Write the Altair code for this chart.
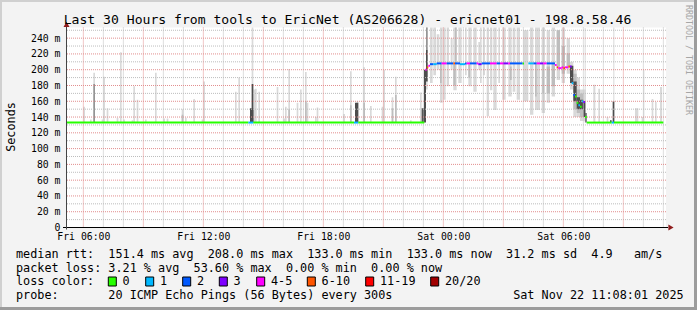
import altair as alt
import pandas as pd

MONO = "DejaVu Sans Mono"

# ---------------- data (time = minutes since Fri 00:00, values = ms) ----------------
time_domain = [308, 2108]          # Fri 05:08 .. Sat 11:08
rtt_domain = [0, 253.5]
x_ticks = [360, 720, 1080, 1440, 1800]
y_ticks = list(range(0, 241, 20))

loss_labels = ["0", "1", "2", "3", "4-5", "6-10", "11-19", "20/20"]
loss_colors = ["#26ff00", "#00b8ff", "#0059ff", "#7e00ff", "#ff00ff", "#ff5500", "#ff0000", "#a10000"]

# smoke bars: (start, end, low, high)
light_bars = [
    (360, 365, 133, 153), (380, 385, 133, 137), (390, 395, 133, 196), (415, 420, 133, 137),
    (420, 425, 133, 191), (430, 435, 133, 151), (460, 465, 133, 139), (470, 475, 133, 222),
    (480, 485, 133, 137), (505, 510, 133, 136), (510, 515, 133, 179), (520, 525, 133, 162),
    (545, 550, 133, 137), (575, 580, 133, 196), (600, 605, 133, 138), (610, 615, 133, 138),
    (655, 660, 133, 150), (665, 670, 133, 139), (690, 695, 133, 163), (715, 720, 133, 137),
    (720, 725, 133, 185), (815, 820, 133, 172), (825, 830, 133, 190), (865, 870, 133, 254),
    (870, 875, 133, 175), (875, 880, 133, 176), (885, 890, 133, 172), (940, 945, 133, 178),
    (960, 965, 133, 138), (965, 970, 133, 153), (975, 980, 133, 201), (1000, 1005, 133, 158),
    (1010, 1015, 133, 175), (1025, 1030, 133, 197), (1030, 1035, 133, 158), (1055, 1060, 133, 140),
    (1060, 1065, 133, 152), (1140, 1145, 133, 144), (1160, 1165, 133, 198), (1180, 1185, 133, 160),
    (1200, 1205, 133, 203), (1220, 1225, 133, 154), (1255, 1260, 133, 153), (1260, 1265, 133, 200),
    (1285, 1290, 133, 165), (1295, 1300, 133, 191), (1340, 1345, 133, 136), (1370, 1375, 133, 171),
    (1388, 1393, 175, 254), (1400, 1408, 183, 254), (1410, 1418, 193, 254), (1420, 1428, 200, 245),
    (1430, 1438, 158, 254), (1440, 1447, 162, 254), (1450, 1457, 179, 254), (1462, 1468, 200, 240),
    (1470, 1480, 174, 254), (1485, 1495, 183, 254), (1505, 1510, 193, 254), (1515, 1525, 179, 254),
    (1530, 1540, 172, 254), (1545, 1550, 200, 235), (1550, 1555, 183, 254), (1560, 1565, 193, 254),
    (1570, 1577, 141, 254), (1580, 1587, 174, 254), (1590, 1600, 149, 254), (1605, 1610, 183, 254),
    (1617, 1627, 162, 254), (1635, 1645, 166, 254), (1648, 1656, 172, 254), (1660, 1670, 162, 254),
    (1680, 1695, 160, 250), (1700, 1710, 143, 254), (1715, 1730, 149, 254), (1735, 1745, 145, 254),
    (1750, 1760, 158, 250), (1765, 1775, 166, 254), (1780, 1790, 187, 250), (1795, 1805, 183, 254),
    (1810, 1820, 195, 240), (1820, 1830, 175, 210), (1830, 1840, 140, 200), (1840, 1850, 140, 190),
    (1850, 1860, 135, 175), (1860, 1868, 135, 175), (1864, 1867, 133, 253),
    (1890, 1896, 133, 181), (1905, 1910, 133, 176), (1930, 1935, 133, 140), (1950, 1953, 133, 254),
    (2015, 2025, 133, 151), (2035, 2040, 133, 140), (2040, 2043, 133, 200), (2065, 2070, 133, 163),
    (2075, 2080, 133, 159), (2090, 2096, 133, 178),
]
mid_bars = [
    (655, 660, 133, 143), (975, 980, 133, 150), (1025, 1030, 133, 160), (1160, 1165, 133, 155),
    (1200, 1205, 133, 158), (1285, 1290, 133, 151), (1295, 1300, 133, 168),
    (1430, 1435, 183, 207), (1470, 1477, 180, 207), (1475, 1480, 208, 254), (1515, 1520, 190, 207),
    (1640, 1645, 187, 204), (1715, 1720, 166, 207), (1737, 1742, 170, 207), (1750, 1760, 170, 204),
    (1765, 1775, 179, 208), (1780, 1790, 204, 250), (1795, 1805, 195, 230), (1810, 1820, 204, 221),
    (1830, 1840, 150, 195), (1840, 1850, 145, 175), (1850, 1860, 140, 170),
]
grey_bars = [
    (390, 395, 133, 182), (1388, 1393, 225, 254),
]
dark_bars = [
    (860, 870, 133, 151), (865, 870, 133, 182), (1175, 1185, 133, 158), (1375, 1382, 133, 151),
    (1382, 1388, 133, 200), (1388, 1393, 185, 225), (1820, 1830, 183, 205), (1830, 1840, 160, 185),
    (1840, 1850, 150, 165), (1850, 1860, 150, 162), (1860, 1866, 140, 160), (1866, 1870, 133, 145),
    (1940, 1945, 133, 136), (1948, 1953, 133, 160),
]

# median rtt steps: (start, end, value, loss bucket index)
median_steps = [
    (308, 855, 133, 0), (855, 870, 133, 1), (870, 1172, 133, 0), (1172, 1185, 133, 1),
    (1185, 1383, 133, 0), (1386, 1390, 200, 4), (1390, 1395, 203, 5), (1395, 1400, 205, 4),
    (1400, 1410, 207, 2), (1410, 1420, 207, 1), (1420, 1435, 208, 2), (1435, 1450, 208, 4),
    (1450, 1470, 208, 2), (1470, 1475, 208, 5), (1475, 1490, 208, 2), (1490, 1505, 207, 1),
    (1505, 1510, 208, 2), (1510, 1520, 208, 4), (1520, 1540, 208, 2), (1540, 1545, 208, 4),
    (1545, 1555, 207, 3), (1555, 1580, 208, 2), (1580, 1600, 208, 4), (1600, 1610, 208, 2),
    (1610, 1620, 208, 4), (1620, 1635, 208, 3), (1635, 1640, 208, 4), (1640, 1678, 208, 2),
    (1678, 1682, 208, 0), (1695, 1710, 208, 1), (1710, 1720, 208, 2), (1720, 1730, 208, 4),
    (1730, 1740, 208, 3), (1740, 1750, 208, 4), (1750, 1775, 208, 2), (1775, 1780, 206, 4),
    (1780, 1785, 203, 5), (1785, 1795, 202, 4), (1795, 1800, 203, 4), (1800, 1805, 202, 5),
    (1805, 1815, 203, 4), (1815, 1820, 204, 5), (1820, 1825, 204, 3), (1825, 1830, 183, 1),
    (1830, 1835, 168, 2), (1835, 1840, 166, 0), (1840, 1845, 158, 0), (1845, 1850, 155, 1),
    (1850, 1855, 153, 0), (1855, 1860, 160, 1), (1860, 1865, 159, 3), (1865, 1870, 140, 0),
    (1870, 1945, 133, 0), (1945, 1952, 133, 1), (1952, 2100, 133, 0),
]

title_text = "Last 30 Hours from tools to EricNet (AS206628) - ericnet01 - 198.8.58.46"
stats_rtt = "median rtt:  151.4 ms avg  208.0 ms max  133.0 ms min  133.0 ms now  31.2 ms sd  4.9   am/s"
stats_loss = "packet loss: 3.21 % avg  53.60 % max  0.00 % min  0.00 % now"
probe_line = "probe:".ljust(13) + "20 ICMP Echo Pings (56 Bytes) every 300s".ljust(57) + "Sat Nov 22 11:08:01 2025"
y_title = "Seconds"
credit = "RRDTOOL / TOBI OETIKER"

# ---------------- build tables ----------------
def nb(s):
    return s.replace(" ", "\u00a0")

rows = []
for tone, bars in enumerate([light_bars, mid_bars, grey_bars, dark_bars]):
    for (a, b, lo, hi) in bars:
        rows.append(dict(start=a, end=b, low=lo, high=hi, tone=tone))
smoke = pd.DataFrame(rows)

med = pd.DataFrame(median_steps, columns=["start", "end", "value", "loss"])
med["bucket"] = [loss_labels[i] for i in med["loss"]]

minor_v = pd.DataFrame({"m": [m for m in range(360, 2108, 60) if (m - 360) % 180 != 0]})
major_v = pd.DataFrame({"m": list(range(360, 2108, 180))})
minor_h = pd.DataFrame({"v": list(range(10, 251, 20))})
major_h = pd.DataFrame({"v": list(range(20, 241, 20))})
one = pd.DataFrame({"k": [0]})

xs = alt.Scale(domain=time_domain, nice=False, zero=False)
ys = alt.Scale(domain=rtt_domain, nice=False, zero=False)

x_axis = alt.Axis(
    values=x_ticks, title=None, grid=False, domain=False, ticks=False,
    labelFont=MONO, labelFontSize=9.8, labelColor="black", labelPadding=4,
    labelFlush=False, labelOverlap=False,
    labelExpr="(datum.value < 1440 ? 'Fri ' : 'Sat ') + (floor((datum.value % 1440) / 60) < 10 ? '0' : '') + floor((datum.value % 1440) / 60) + ':00'",
)
y_axis = alt.Axis(
    values=y_ticks, title=None, grid=False, domain=False, ticks=False,
    labelFont=MONO, labelFontSize=9.8, labelColor="black", labelPadding=6,
    labelOverlap=False,
    labelExpr="datum.value == 0 ? '0\u00a0\u00a0' : datum.value + '\u00a0m'",
)

smoke_layer = alt.Chart(smoke).mark_rect(clip=True).encode(
    x=alt.X("start:Q", scale=xs, axis=x_axis),
    x2="end:Q",
    y=alt.Y("low:Q", scale=ys, axis=y_axis),
    y2="high:Q",
    color=alt.Color("tone:O", scale=alt.Scale(domain=[0, 1, 2, 3],
                    range=["#d9d9d9", "#bdbdbd", "#959595", "#4d4d4d"]), legend=None),
    order=alt.Order("tone:Q"),
)

MINOR = "#bdbdbd"
MAJOR = "#e28e8e"
g_minor_v = alt.Chart(minor_v).mark_rule(color=MINOR, strokeDash=[1, 1], strokeWidth=1).encode(
    x=alt.X("m:Q", scale=xs, axis=x_axis))
g_major_v = alt.Chart(major_v).mark_rule(color=MAJOR, strokeDash=[1, 1], strokeWidth=1).encode(
    x=alt.X("m:Q", scale=xs, axis=x_axis))
g_minor_h = alt.Chart(minor_h).mark_rule(color=MINOR, strokeDash=[1, 1], strokeWidth=1).encode(
    y=alt.Y("v:Q", scale=ys, axis=y_axis))
g_major_h = alt.Chart(major_h).mark_rule(color=MAJOR, strokeDash=[1, 1], strokeWidth=1).encode(
    y=alt.Y("v:Q", scale=ys, axis=y_axis))

median_layer = alt.Chart(med).mark_rule(strokeWidth=2, strokeCap="butt").encode(
    x=alt.X("start:Q", scale=xs, axis=x_axis),
    x2="end:Q",
    y=alt.Y("value:Q", scale=ys, axis=y_axis),
    color=alt.Color("bucket:N", scale=alt.Scale(domain=loss_labels, range=loss_colors), legend=None),
)

# axis lines and arrows
AX = "#8f1c1c"
x_line = alt.Chart(one).mark_rule(color="black", strokeWidth=1).encode(
    x=alt.value(-3), x2=alt.value(602), y=alt.value(200))
y_line = alt.Chart(one).mark_rule(color="#444444", strokeWidth=1).encode(
    x=alt.value(0.5), y=alt.value(-4), y2=alt.value(202))
y_arrow = alt.Chart(one).mark_point(shape="triangle-up", filled=True, size=36, color=AX, opacity=1).encode(
    x=alt.value(0.5), y=alt.value(-3.2))
x_arrow = alt.Chart(one).mark_point(shape="triangle-right", filled=True, size=36, color=AX, opacity=1).encode(
    x=alt.value(605), y=alt.value(200))


def txt(s, x, y, size=11.8, align="left", baseline="alphabetic", angle=0, color="black"):
    return alt.Chart(one).mark_text(
        text=nb(s), font=MONO, fontSize=size, align=align, baseline=baseline,
        angle=angle, color=color,
    ).encode(x=alt.value(x), y=alt.value(y))


texts = [
    txt(title_text, 281.5, -3.5, size=13.1, align="center"),
    txt(y_title, -55.5, 99.5, align="center", baseline="middle", angle=270),
    txt(credit, 621.5, 32.5, size=8.3, align="center", baseline="middle", angle=90, color="#a6a6a6"),
    txt(stats_rtt, -50, 230.3),
    txt(stats_loss, -50, 244.0),
    txt("loss color:", -50, 257.8),
    txt(probe_line, -50, 271.5),
]

box_left = [108.3, 145.7, 182.7, 219.3, 256.7, 307.3, 365.7, 430.7]
legend_layers = []
for lab, col, bx in zip(loss_labels, loss_colors, box_left):
    px = bx - 66
    legend_layers.append(
        alt.Chart(one).mark_rect(fill=col, stroke="black", strokeWidth=1).encode(
            x=alt.value(px), x2=alt.value(px + 8), y=alt.value(249.5), y2=alt.value(258.5)))
    legend_layers.append(txt(lab, px + 14.3, 257.8))

# image frame (3D border)
frame = [
    alt.Chart(one).mark_rect(color="#d0d0d0").encode(
        x=alt.value(-66), x2=alt.value(631), y=alt.value(-27.5), y2=alt.value(-25.5)),
    alt.Chart(one).mark_rect(color="#d0d0d0").encode(
        x=alt.value(-66), x2=alt.value(-64), y=alt.value(-27.5), y2=alt.value(282.5)),
    alt.Chart(one).mark_rect(color="#9c9c9c").encode(
        x=alt.value(628), x2=alt.value(631), y=alt.value(-27.5), y2=alt.value(282.5)),
    alt.Chart(one).mark_rect(color="#9c9c9c").encode(
        x=alt.value(-66), x2=alt.value(631), y=alt.value(279.5), y2=alt.value(282.5)),
]

chart = alt.layer(
    smoke_layer, g_minor_v, g_minor_h, g_major_v, g_major_h, median_layer,
    x_line, y_line, y_arrow, x_arrow, *texts, *legend_layers, *frame,
).resolve_scale(color="independent").properties(
    width=600, height=200,
    autosize=alt.AutoSizeParams(type="none"),
    padding={"left": 66, "top": 27.5, "right": 31, "bottom": 82.5},
    background="#f3f3f3",
).configure_view(fill="white", strokeWidth=0)

chart.save("out.html", embed_options={"renderer": "svg", "actions": False})
